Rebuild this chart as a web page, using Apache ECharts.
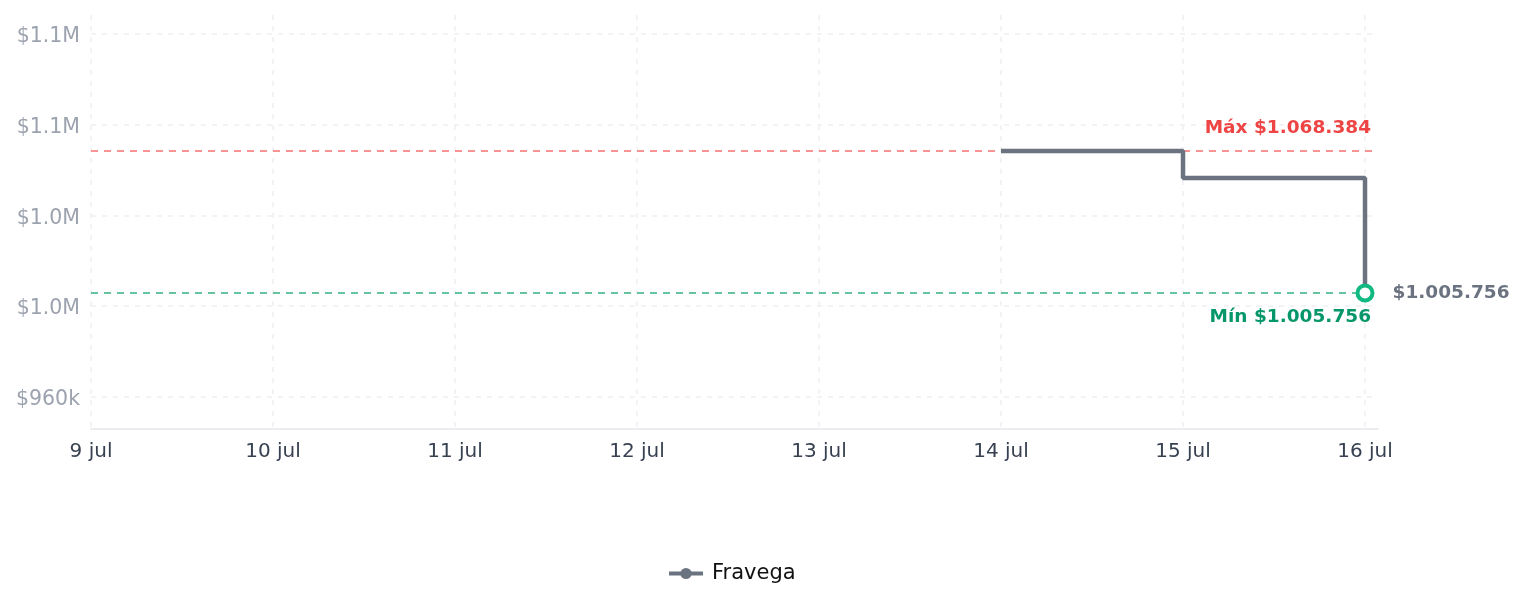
<!DOCTYPE html>
<html>
<head>
<meta charset="utf-8">
<script src="https://cdn.jsdelivr.net/npm/echarts@6/dist/echarts.min.js"></script>
<style>
  html, body { margin: 0; padding: 0; background: #fff; }
  #chart { width: 1525px; height: 607px; }
</style>
</head>
<body>
<div id="chart"></div>
<script>
// data
var dates = ['9 jul', '10 jul', '11 jul', '12 jul', '13 jul', '14 jul', '15 jul', '16 jul'];
var prices = [null, null, null, null, null, 1068384, 1056500, 1005756];
var maxPrice = 1068384;
var minPrice = 1005756;
var seriesName = 'Fravega';

function money(v) {
  return '$' + Math.round(v).toString().replace(/\B(?=(\d{3})+(?!\d))/g, '.');
}
function shortMoney(v) {
  if (v >= 1000000) return '$' + (v / 1000000).toFixed(1) + 'M';
  return '$' + Math.round(v / 1000) + 'k';
}

var points = prices.map(function (p, i) {
  if (i === prices.length - 1) {
    return {
      value: [i, p],
      symbol: 'circle',
      symbolSize: 15,
      itemStyle: { color: '#fff', borderColor: '#10b981', borderWidth: 4 },
      label: {
        show: true, position: 'right', distance: 18,
        formatter: function () { return money(p); },
        color: '#6b7280', fontWeight: 'bold', fontSize: 18.5, fontFamily: 'DejaVu Sans'
      }
    };
  }
  return { value: [i, p], symbol: 'none' };
});

var chart = echarts.init(document.getElementById('chart'));
chart.setOption({
  animation: false,
  grid: { left: 91, right: 147, top: 15, bottom: 178 },
  legend: {
    data: [seriesName],
    bottom: 18,
    left: 662,
    itemWidth: 34,
    itemHeight: 14,
    textStyle: { fontSize: 21, color: '#111', fontFamily: 'DejaVu Sans', padding: [0, 0, 0, 4] },
    itemStyle: { color: '#6b7280', borderWidth: 0 },
    lineStyle: { color: '#6b7280', width: 4 }
  },
  xAxis: {
    type: 'value',
    min: 0,
    max: 7.0714,
    interval: 1,
    axisLine: { show: true, lineStyle: { color: '#e5e7eb', width: 1.5 } },
    axisTick: { show: false },
    axisLabel: {
      showMaxLabel: false,
      margin: 13,
      fontSize: 20, color: '#374151', fontFamily: 'DejaVu Sans',
      formatter: function (v) { return dates[Math.round(v)] || ''; }
    },
    splitLine: { show: true, showMaxLine: false, lineStyle: { color: '#f0f0f0', type: [5, 6], width: 1.5 } }
  },
  yAxis: {
    type: 'value',
    min: 945756,
    max: 1128384,
    minInterval: 40000,
    maxInterval: 40000,
    axisLine: { show: false },
    axisTick: { show: false },
    axisLabel: {
      showMinLabel: false, showMaxLabel: false,
      margin: 11,
      formatter: function (v) { return '{t|' + shortMoney(v) + '}'; },
      rich: {
        t: { fontSize: 20.5, color: '#9ca3af', fontFamily: 'DejaVu Sans', padding: [6, 0, 0, 0] }
      }
    },
    splitLine: { show: true, showMinLine: false, showMaxLine: false, lineStyle: { color: '#f0f0f0', type: [5, 6], width: 1.5 } }
  },
  series: [{
    name: seriesName,
    type: 'line',
    step: 'end',
    data: points,
    symbol: 'circle',
    symbolSize: 12,
    connectNulls: false,
    lineStyle: { color: '#6b7280', width: 4.5 },
    itemStyle: { color: '#6b7280' },
    z: 3,
    markLine: {
      silent: true,
      symbol: 'none',
      z: 1,
      data: [
        {
          yAxis: maxPrice,
          lineStyle: { color: '#f87171', type: [7, 6], width: 1.5 },
          label: {
            position: 'insideEndTop', distance: [7, 13],
            formatter: 'Máx ' + money(maxPrice),
            color: '#ef4444', fontWeight: 'bold', fontSize: 18.5, fontFamily: 'DejaVu Sans'
          }
        },
        {
          yAxis: minPrice,
          lineStyle: { color: '#34b383', type: [7, 6], width: 1.5 },
          label: {
            position: 'insideEndBottom', distance: [7, 15],
            formatter: 'Mín ' + money(minPrice),
            color: '#059669', fontWeight: 'bold', fontSize: 18.5, fontFamily: 'DejaVu Sans'
          }
        }
      ]
    }
  }]
});
</script>
</body>
</html>
